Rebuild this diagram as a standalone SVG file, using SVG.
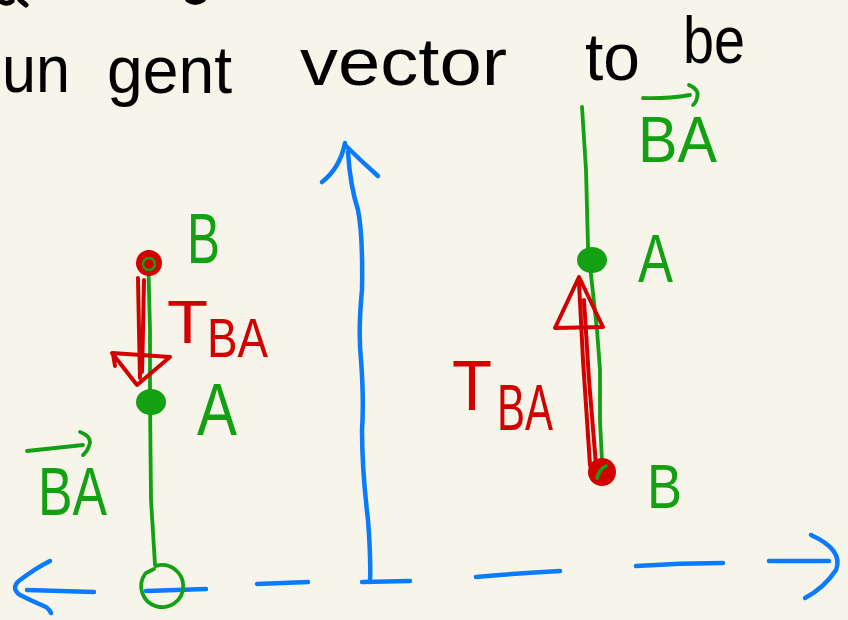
<svg xmlns="http://www.w3.org/2000/svg" width="848" height="620" viewBox="0 0 848 620">
  <style>
    .ink { fill: none; stroke-linecap: round; stroke-linejoin: round; }
    .blue { stroke: #0a7bff; stroke-width: 4.5; }
    .green { stroke: #13a013; stroke-width: 3.8; }
    .red { stroke: #d20000; stroke-width: 4; }
    .black { stroke: #000; stroke-width: 5; }
    .hand { font-family: "Liberation Sans", Arial, sans-serif; }
    .tblack { fill: #000; font-size: 67px; }
    .tgreen { fill: #13a013; }
    .tred { fill: #d20000; }
  </style>
  <rect width="848" height="620" fill="#f7f5ea"/>

  <g id="heading">
    <path class="ink black" d="M2,2 Q8,5 12,1 M20,0 L26,5" />
    <path class="ink black" d="M188,0 Q195,5 203,0" />
    <text class="hand tblack" x="2" y="92" textLength="68" lengthAdjust="spacingAndGlyphs">un</text>
    <text class="hand tblack" x="107" y="93" textLength="125" lengthAdjust="spacingAndGlyphs">gent</text>
    <text class="hand tblack" x="300" y="85" textLength="207" lengthAdjust="spacingAndGlyphs">vector</text>
    <text class="hand tblack" x="585" y="80" textLength="55" lengthAdjust="spacingAndGlyphs">to</text>
    <text class="hand tblack" x="683" y="63" textLength="62" lengthAdjust="spacingAndGlyphs">be</text>
  </g>

  <g id="axes">
    <path class="ink blue" d="M50,561 Q36,568 20,580 Q10,588 20,595 Q34,602 46,607 Q50,610 51,613" />
    <path class="ink blue" d="M27,590 L94,592" />
    <path class="ink blue" d="M146,591 L206,589" />
    <path class="ink blue" d="M257,584 L308,582" />
    <path class="ink blue" d="M345,145 Q360,160 378,176 M322,182 Q340,168 345,143" />
    <path class="ink blue" d="M348,152 Q350,185 358,210 Q363,235 362,290 Q358,330 361,360 Q364,400 362,430 Q362,470 368,520 Q371,560 370,582" />
    <path class="ink blue" d="M362,582 L410,581" />
    <path class="ink blue" d="M476,577 Q520,573 560,571" />
    <path class="ink blue" d="M636,566 Q680,563 723,563" />
    <path class="ink blue" d="M769,561 L829,561" />
    <path class="ink blue" d="M811,535 Q844,550 836,570 Q824,588 805,598" />
  </g>

  <g id="left-line">
    <path class="ink green" d="M148,252 L150,330 L150,400 L151,500 L155,565" />
    <path class="ink green" d="M156,566 A21,21 0 1 1 145,574 M146,573 L154,569" />
  </g>

  <g id="left-B">
    <circle cx="149" cy="263" r="13" fill="#d20000"/>
    <circle cx="149" cy="264" r="6" fill="none" stroke="#13a013" stroke-width="2.5"/>
    <text class="hand tgreen" x="187" y="263" font-size="70" textLength="33" lengthAdjust="spacingAndGlyphs">B</text>
  </g>

  <g id="left-A">
    <ellipse cx="151" cy="402" rx="15" ry="13" fill="#13a013"/>
    <text class="hand tgreen" x="197" y="435" font-size="74" textLength="40" lengthAdjust="spacingAndGlyphs">A</text>
  </g>

  <g id="left-T">
    <path class="ink red" d="M138,278 L139,330 L140,378 M144,280 L143,330 L142,372" />
    <path class="ink red" d="M112,353 L170,357 L137,385 Z M113,354 L115,366" />
    <text class="hand tred" x="167" y="343" font-size="62" textLength="41" lengthAdjust="spacingAndGlyphs">T</text>
    <text class="hand tred" x="207" y="357" font-size="56" textLength="61" lengthAdjust="spacingAndGlyphs">BA</text>
  </g>

  <g id="left-BA">
    <path class="ink green" d="M27,451 L83,445 M80,432 Q93,437 89,446 Q87,452 83,455" />
    <text class="hand tgreen" x="38" y="515" font-size="68" textLength="69" lengthAdjust="spacingAndGlyphs">BA</text>
  </g>

  <g id="right-line">
    <path class="ink green" d="M582,107 L586,170 L588,247 L591,275 L597,330 L600,370 L600,420 L602,462" />
  </g>

  <g id="right-BA">
    <path class="ink green" d="M643,98 Q665,99 690,95 M689,85 Q700,90 697,98 Q696,103 693,105" />
    <text class="hand tgreen" x="638" y="162" font-size="64" textLength="79" lengthAdjust="spacingAndGlyphs">BA</text>
  </g>

  <g id="right-A">
    <ellipse cx="592" cy="260" rx="15" ry="13" fill="#13a013"/>
    <text class="hand tgreen" x="638" y="282" font-size="68" textLength="35" lengthAdjust="spacingAndGlyphs">A</text>
  </g>

  <g id="right-T">
    <path class="ink red" d="M579,282 L583,360 L590,465 M584,300 L589,380 L596,465" />
    <path class="ink red" d="M555,328 L579,277 L603,327 Z" />
    <text class="hand tred" x="452" y="410" font-size="70" textLength="40" lengthAdjust="spacingAndGlyphs">T</text>
    <text class="hand tred" x="497" y="430" font-size="64" textLength="56" lengthAdjust="spacingAndGlyphs">BA</text>
  </g>

  <g id="right-B">
    <circle cx="602" cy="472" r="14" fill="#d20000"/>
    <path class="ink green" d="M597,478 Q600,468 606,466" stroke-width="2.5"/>
    <text class="hand tgreen" x="647" y="508" font-size="63" textLength="35" lengthAdjust="spacingAndGlyphs">B</text>
  </g>
</svg>
